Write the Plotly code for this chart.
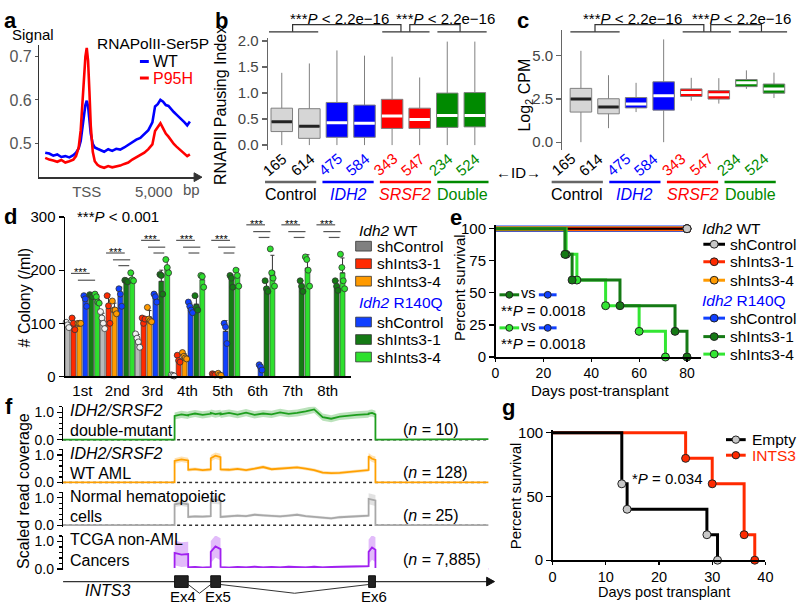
import plotly.graph_objects as go

W, H = 800, 610
FONT = "Liberation Sans, Arial, sans-serif"


def X(p):
    return p / W


def Y(p):
    return 1 - p / H


# ======================= DATA =======================
# ---- panel a : RNAPolII-Ser5P metagene profile ----
prof_bp = [-3100, -2800, -2500, -2200, -1900, -1600, -1300, -1000, -800, -600, -450, -300, -200, -100,
           0, 100, 200, 300, 450, 600, 800, 1000, 1300, 1600, 1900, 2200, 2500, 2800, 3100, 3400, 3700,
           4000, 4300, 4600, 4900, 5100, 5300, 5500, 5700, 5900, 6100, 6300, 6500, 6700, 6900, 7100,
           7300, 7500, 7700]
wt_signal = [0.478, 0.476, 0.471, 0.474, 0.468, 0.470, 0.467, 0.472, 0.478, 0.488, 0.505, 0.535, 0.565,
             0.588, 0.598, 0.585, 0.555, 0.522, 0.498, 0.490, 0.487, 0.484, 0.480, 0.486, 0.482, 0.487,
             0.485, 0.490, 0.496, 0.503, 0.508, 0.512, 0.522, 0.530, 0.548, 0.585, 0.590, 0.600, 0.596,
             0.588, 0.586, 0.578, 0.572, 0.566, 0.560, 0.556, 0.548, 0.541, 0.550]
p95h_signal = [0.466, 0.462, 0.460, 0.457, 0.461, 0.455, 0.458, 0.462, 0.470, 0.490, 0.530, 0.600, 0.660,
               0.700, 0.720, 0.690, 0.620, 0.540, 0.480, 0.458, 0.450, 0.446, 0.443, 0.447, 0.444, 0.446,
               0.448, 0.452, 0.455, 0.462, 0.467, 0.472, 0.478, 0.486, 0.497, 0.528, 0.538, 0.546, 0.534,
               0.522, 0.515, 0.505, 0.498, 0.492, 0.486, 0.482, 0.476, 0.470, 0.474]

# ---- panels b, c : boxplots per sample ID ----
sample_ids = ["165", "614", "475", "584", "343", "547", "234", "524"]
group_names = ["Control", "IDH2", "SRSF2", "Double"]
pause_low = [0, 0, 0, 0, 0, 0, 0, 0]
pause_q1 = [0.26, 0.13, 0.15, 0.15, 0.32, 0.32, 0.34, 0.35]
pause_med = [0.45, 0.36, 0.43, 0.42, 0.56, 0.49, 0.57, 0.57]
pause_q3 = [0.71, 0.70, 0.82, 0.77, 0.88, 0.71, 1.00, 1.01]
pause_high = [1.39, 1.57, 1.82, 1.72, 1.70, 1.30, 1.99, 1.99]

cpm_low = [0.0, 0.81, 1.74, 0.0, 2.40, 2.23, 3.08, 2.55]
cpm_q1 = [1.74, 1.64, 1.98, 1.85, 2.64, 2.49, 3.21, 2.83]
cpm_med = [2.49, 2.04, 2.21, 2.68, 2.87, 2.74, 3.43, 3.08]
cpm_q3 = [3.11, 2.51, 2.58, 3.49, 3.08, 2.98, 3.62, 3.36]
cpm_high = [5.28, 3.87, 3.43, 5.94, 3.72, 3.70, 4.15, 4.02]

# ---- panel d : colony replating ----
passages = ["1st", "2nd", "3rd", "4th", "5th", "6th", "7th", "8th"]
col_wt_ctrl = [97, 105, 68, 2, None, None, None, None]
col_wt_i31 = [99, 128, 106, 32, 4, None, None, None]
col_wt_i34 = [100, 128, 112, 38, 4, None, None, None]
col_mut_ctrl = [143, 151, 148, 129, 85, 17, None, None]
col_mut_i31 = [152, 180, 179, 136, 181, 168, 170, 171]
col_mut_i34 = [146, 186, 207, 182, 187, 198, 204, 195]
sd_wt_ctrl = [5, 14, 11, 1, 0, 0, 0, 0]
sd_wt_i31 = [11, 26, 5, 7, 1, 0, 0, 0]
sd_wt_i34 = [0, 10, 12, 5, 2, 0, 0, 0]
sd_mut_ctrl = [10, 17, 8, 9, 20, 5, 0, 0]
sd_mut_i31 = [2, 2, 21, 14, 11, 10, 10, 9]
sd_mut_i34 = [8, 8, 13, 12, 15, 30, 25, 28]
dots_wt_ctrl = [[102, 97, 92], [122, 110, 100, 90], [80, 72, 65, 55], [3, 2, 1], [], [], [], []]
dots_wt_i31 = [[110, 100, 88], [152, 133, 100], [110, 100, 108], [40, 30, 27], [5, 4, 3], [], [], []]
dots_wt_i34 = [[100, 100, 100], [142, 125, 125, 118], [130, 108, 105, 103], [45, 38, 35, 33], [6, 3, 2],
               [], [], []]
dots_mut_ctrl = [[152, 146, 132], [165, 155, 132], [155, 150, 140], [140, 132, 125, 120], [100, 93, 62],
                 [22, 18, 12], [], []]
dots_mut_i31 = [[154, 152, 150], [181, 180, 178], [192, 190, 155], [152, 130, 125], [190, 185, 168],
                [180, 165, 160], [180, 170, 160], [180, 170, 162]]
dots_mut_i34 = [[155, 150, 140, 138], [195, 182, 180], [220, 205, 195], [190, 188, 168], [200, 190, 170],
                [240, 195, 185, 170], [225, 220, 200, 170], [230, 205, 180, 165]]
shrna_names = ["shControl", "shInts3-1", "shInts3-4"]

# ---- panel e : survival ----
e_ctrl_days = [0, 80]
e_ctrl_surv = [100, 100]
e_i31_days = [0, 29, 32, 52, 75, 80]
e_i31_surv = [100, 80, 60, 40, 20, 0]
e_i34_days = [0, 29.5, 34, 46, 60, 71]
e_i34_surv = [100, 80, 60, 40, 20, 0]

# ---- panel f : INTS3 coverage ----
cov_pos = [0, 26.2, 26.2, 27.8, 29.4, 29.4, 31.0, 32.8, 34.7, 34.7, 35.8, 37.0, 37.0, 39, 41, 43, 45, 47,
           49, 51, 53, 55, 57, 59, 61, 63, 65, 67, 69, 71.8, 71.8, 72.6, 73.4, 73.4, 100]
cov_double = [0, 0, 0.86, 0.92, 0.88, 0.90, 0.95, 0.90, 0.94, 0.97, 0.93, 0.96, 0.92, 0.97, 0.91, 0.98,
              0.90, 0.95, 0.92, 0.99, 0.94, 0.97, 1.03, 1.10, 0.82, 0.76, 0.84, 0.88, 0.90, 0.93, 0.95,
              0.97, 0.92, 0, 0.02]
cov_wt_aml = [0, 0, 0.78, 0.84, 0.80, 0.46, 0.48, 0.45, 0.47, 0.88, 0.97, 0.92, 0.47, 0.46, 0.49, 0.45,
              0.50, 0.56, 0.48, 0.50, 0.52, 0.55, 0.50, 0.45, 0.36, 0.34, 0.35, 0.38, 0.42, 0.45, 0.95,
              0.86, 0.82, 0, 0]
cov_normal = [0, 0, 0.76, 0.80, 0.76, 0.30, 0.32, 0.31, 0.33, 0.94, 0.92, 0.90, 0.30, 0.32, 0.35, 0.33,
              0.38, 0.36, 0.33, 0.32, 0.35, 0.38, 0.33, 0.30, 0.26, 0.25, 0.29, 0.31, 0.33, 0.35, 0.96,
              0.92, 0.90, 0, 0]
cov_tcga = [0, 0, 0.58, 0.52, 0.54, 0.06, 0.07, 0.05, 0.07, 0.62, 0.82, 0.72, 0.07, 0.05, 0.07, 0.06,
            0.08, 0.06, 0.07, 0.06, 0.08, 0.07, 0.06, 0.08, 0.06, 0.07, 0.08, 0.07, 0.08, 0.10, 0.62, 0.78,
            0.70, 0, 0]
band_double = [0, 0, 0.13, 0.13, 0.13, 0.13, 0.13, 0.13, 0.13, 0.13, 0.13, 0.13, 0.13, 0.13, 0.13, 0.13,
               0.13, 0.13, 0.13, 0.13, 0.13, 0.13, 0.13, 0.13, 0.13, 0.13, 0.13, 0.13, 0.13, 0.13, 0.13,
               0.13, 0.13, 0, 0]
band_wt_aml = [0, 0, 0.10, 0.10, 0.10, 0.06, 0.06, 0.06, 0.06, 0.12, 0.12, 0.12, 0.06, 0.06, 0.06, 0.06,
               0.06, 0.06, 0.06, 0.06, 0.06, 0.06, 0.06, 0.06, 0.06, 0.06, 0.06, 0.06, 0.06, 0.06, 0.12,
               0.12, 0.12, 0, 0]
band_normal = [0, 0, 0.10, 0.10, 0.10, 0.05, 0.05, 0.05, 0.05, 0.15, 0.15, 0.15, 0.05, 0.05, 0.05, 0.05,
               0.05, 0.05, 0.05, 0.05, 0.05, 0.05, 0.05, 0.05, 0.05, 0.05, 0.05, 0.05, 0.05, 0.05, 0.20,
               0.20, 0.20, 0, 0]
band_tcga = [0, 0, 0.45, 0.45, 0.45, 0.04, 0.04, 0.04, 0.04, 0.40, 0.40, 0.40, 0.04, 0.04, 0.04, 0.04,
             0.04, 0.04, 0.04, 0.04, 0.04, 0.04, 0.04, 0.04, 0.04, 0.04, 0.04, 0.04, 0.04, 0.05, 0.45,
             0.45, 0.45, 0, 0]
cov_titles = [["<i>IDH2/SRSF2</i>", "double-mutant"], ["<i>IDH2/SRSF2</i>", "WT AML"],
              ["Normal hematopoietic", "cells"], ["TCGA non-AML", "Cancers"]]
cov_n = ["10", "128", "25", "7,885"]
exon_start = [26.2, 34.7, 71.8]
exon_end = [29.4, 37.0, 73.4]
exon_names = ["Ex4", "Ex5", "Ex6"]

# ---- panel g : survival ----
g_empty_days = [0, 13, 14, 29, 31]
g_empty_surv = [100, 60, 40, 20, 0]
g_ints3_days = [0, 25, 30, 36, 38]
g_ints3_surv = [100, 80, 60, 20, 0]

# ======================= STYLE =======================
BLUE, RED, GREEN = "#0000ff", "#ff0000", "#008a00"
box_fill = ["#d6d6d6", "#d6d6d6", BLUE, BLUE, RED, RED, GREEN, GREEN]
med_col = ["#222222", "#222222", "white", "white", "white", "white", "white", "white"]
id_col = ["black", "black", BLUE, BLUE, RED, RED, GREEN, GREEN]
grp_col = ["#666666", BLUE, RED, GREEN]
grp_lbl = ["Control", "<i>IDH2</i>", "<i>SRSF2</i>", "Double"]
d_fill = ["#b8b8b8", "#ff2a00", "#ff9a00", "#1040ff", "#157a15", "#2ee02e"]
d_dot = ["#f0f0f0", "#ff2a00", "#ff9a00", "#1040ff", "#157a15", "#2ee02e"]
d_leg = ["#808080", "#ff2a00", "#ff9a00", "#1040ff", "#157a15", "#2ee02e"]

traces, shapes, anns = [], [], []


def ax(n):
    return ("x" if n == 1 else "x%d" % n), ("y" if n == 1 else "y%d" % n)


def add(tr, n):
    xa, ya = ax(n)
    tr.update(xaxis=xa, yaxis=ya, hoverinfo="skip")
    traces.append(tr)


def ann(x, y, text, size=15, color="black", xanchor="center", angle=0, bold=False):
    if bold:
        text = "<b>%s</b>" % text
    anns.append(dict(x=X(x), y=Y(y), xref="paper", yref="paper", text=text, showarrow=False,
                     font=dict(size=size, color=color, family=FONT), xanchor=xanchor, yanchor="middle",
                     textangle=angle))


def line(x0, y0, x1, y1, color="black", width=1.2, dash=None):
    d = dict(color=color, width=width)
    if dash:
        d["dash"] = dash
    shapes.append(dict(type="line", xref="paper", yref="paper", x0=X(x0), y0=Y(y0), x1=X(x1), y1=Y(y1),
                       line=d))


def path(pts, color="black", width=1.2, fill=None, close=False):
    s = "M " + " L ".join("%f,%f" % (X(a), Y(b)) for a, b in pts)
    if close:
        s += " Z"
    shapes.append(dict(type="path", xref="paper", yref="paper", path=s,
                       line=dict(color=color, width=width), fillcolor=fill or "rgba(0,0,0,0)"))


def circle(cx, cy, r, fill, edge="#222"):
    shapes.append(dict(type="circle", xref="paper", yref="paper", x0=X(cx - r), x1=X(cx + r),
                       y0=Y(cy + r), y1=Y(cy - r), fillcolor=fill, line=dict(color=edge, width=1)))


def rect(x0, y0, x1, y1, fill, edge="#333"):
    shapes.append(dict(type="rect", xref="paper", yref="paper", x0=X(x0), x1=X(x1), y0=Y(y1), y1=Y(y0),
                       fillcolor=fill, line=dict(color=edge, width=0.8)))


def base_axis(**kw):
    d = dict(showgrid=False, zeroline=False, showline=True, linecolor="black", linewidth=1.3,
             ticks="outside", ticklen=4, tickwidth=1.2, tickcolor="black",
             tickfont=dict(size=15, color="black", family=FONT), fixedrange=True)
    d.update(kw)
    return d


layout_axes = {}

# ======================= PANEL a =======================
ka = 68 / 5000.0
layout_axes["xaxis"] = base_axis(domain=[X(36), X(197)], range=[(36 - 84) / ka, (197 - 84) / ka],
                                 anchor="y", ticks="", tickvals=[0, 5000], ticktext=["TSS", "5,000"],
                                 linecolor="#333", linewidth=1.5,
                                 tickfont=dict(size=15, color="#555", family=FONT))
layout_axes["yaxis"] = base_axis(domain=[Y(173), Y(37)], range=[0.4213, 0.727], anchor="x",
                                 tickvals=[0.5, 0.6, 0.7], ticktext=["0.5", "0.6", "0.7"], ticklen=3,
                                 linecolor="#333", linewidth=1.5, tickcolor="#555",
                                 tickfont=dict(size=16, color="#555", family=FONT))
add(go.Scatter(x=prof_bp, y=wt_signal, mode="lines", line=dict(color=BLUE, width=2.6)), 1)
add(go.Scatter(x=prof_bp, y=p95h_signal, mode="lines", line=dict(color=RED, width=2.6)), 1)
path([(193, 168.5), (201, 173), (193, 177.5)], color="#333", width=1, fill="#333", close=True)
ann(190, 186, "bp", 15, "#555")
ann(29, 26, "Signal", 15)
ann(151, 35, "RNAPolII-Ser5P", 15.5)
line(138, 54, 147, 54, BLUE, 3)
ann(149, 54, "WT", 16, xanchor="left")
line(138, 71, 147, 71, RED, 3)
ann(149, 71, "P95H", 16, RED, xanchor="left")

# ======================= PANELS b, c =======================
def box_panel(n, xdom, xr, ydom, yr, ticks, tlabels, low, q1, med, q3, high):
    layout_axes["xaxis%d" % n] = dict(domain=xdom, range=xr, anchor="y%d" % n, visible=False,
                                      fixedrange=True)
    layout_axes["yaxis%d" % n] = base_axis(domain=ydom, range=yr, anchor="x%d" % n, tickvals=ticks,
                                           ticktext=tlabels, linecolor="#666", tickcolor="#666",
                                           ticklen=5, tickfont=dict(size=15, color="#444", family=FONT))
    for i in range(len(sample_ids)):
        add(go.Box(x=[i + 1], q1=[q1[i]], median=[med[i]], q3=[q3[i]], lowerfence=[low[i]],
                   upperfence=[high[i]], width=0.78, whiskerwidth=0, fillcolor=box_fill[i],
                   line=dict(color="#808080", width=1), boxpoints=False), n)
        add(go.Scatter(x=[i + 1 - 0.37, i + 1 + 0.37], y=[med[i], med[i]], mode="lines",
                       line=dict(color=med_col[i], width=3)), n)


kb = 53.5
box_panel(2, [X(268), X(492)], [0.5, 8.5], [Y(145), Y(30)], [-5 / kb, 110 / kb],
          [0, 0.5, 1.0, 1.5, 2.0], ["0.0", "0.5", "1.0", "1.5", "2.0"],
          pause_low, pause_q1, pause_med, pause_q3, pause_high)
kc = 17.8
box_panel(3, [X(567), X(796)], [1 + (567 - 585.7) / 28, 1 + (796 - 585.7) / 28], [Y(145), Y(22)],
          [-(145 - 137) / kc, (137 - 22) / kc], [0, 2.5, 5.0], ["0.0", "2.5", "5.0"],
          cpm_low, cpm_q1, cpm_med, cpm_q3, cpm_high)

ptxt = "***<i>P</i> < 2.2e\u221216"
for cx in (341, 448, 638, 749):
    ann(cx, 10, ptxt, 15)
for (a0, a1) in ((269, 319), (384, 432), (440, 490), (575, 625), (689, 738), (746, 795)):
    line(a0, 23.5, a1, 23.5, "#333", 1.2)
for (a0, a1) in ((293, 403), (412, 463), (600, 710.5), (717.5, 769)):
    path([(a0, 23.5), (a0, 16), (a1, 16), (a1, 23.5)], "#333", 1.2)

for i, sid in enumerate(sample_ids):
    ann(282 + 28 * i - 7, 160, sid, 15, id_col[i], angle=-40)
    ann(585.7 + 28 * i - 18, 160, sid, 15, id_col[i], angle=-40)
for k in range(4):
    for cx in (291 + 58.3 * k, 582 + 58.5 * k):
        line(cx - 26, 178, cx + 26, 178, grp_col[k], 2.5)
        ann(cx, 191, grp_lbl[k], 16, "black" if k == 0 else grp_col[k])
ann(522, 168, "\u2190ID\u2192", 15)
ann(220, 99, "RNAPII Pausing Index", 16, angle=-90)
ann(529, 89, "Log<sub>2</sub> CPM", 16, angle=-90)

# ======================= PANEL d =======================
gstep, bstep = 35.6, 6.0
layout_axes["xaxis4"] = base_axis(domain=[X(62), X(352)],
                                  range=[(62 - 79.5) / gstep, (352 - 79.5) / gstep], anchor="y4",
                                  tickvals=list(range(len(passages))), ticktext=passages, ticks="",
                                  linewidth=1.5)
layout_axes["yaxis4"] = base_axis(domain=[Y(378), Y(214)], range=[0, 300], anchor="x4",
                                  tickvals=[0, 100, 200, 300], linewidth=1.5, ticklen=5)
d_means = [col_wt_ctrl, col_wt_i31, col_wt_i34, col_mut_ctrl, col_mut_i31, col_mut_i34]
d_sds = [sd_wt_ctrl, sd_wt_i31, sd_wt_i34, sd_mut_ctrl, sd_mut_i31, sd_mut_i34]
d_dots = [dots_wt_ctrl, dots_wt_i31, dots_wt_i34, dots_mut_ctrl, dots_mut_i31, dots_mut_i34]
off = bstep / gstep
for s in range(6):
    xs = [g + (s - 2.5) * off for g in range(len(passages))]
    add(go.Bar(x=xs, y=d_means[s], width=5.0 / gstep,
               marker=dict(color=d_fill[s], line=dict(color="#333", width=0.6)),
               error_y=dict(type="data", symmetric=False, array=d_sds[s], arrayminus=[0] * 8,
                            color="#333", thickness=1, width=2)), 4)
for s in range(6):
    px_, py_ = [], []
    for g in range(len(passages)):
        vals = d_dots[s][g]
        m = len(vals)
        for k, v in enumerate(vals):
            jit = (k - (m - 1) / 2.0) * 0.04
            px_.append(g + (s - 2.5) * off + jit)
            py_.append(v)
    add(go.Scatter(x=px_, y=py_, mode="markers", cliponaxis=False,
                   marker=dict(size=6, color=d_dot[s], line=dict(color="#333", width=0.8))), 4)

sig_y = [268, 247, 234, 234, 234, 218, 218, 218]
for g in range(len(passages)):
    cx = 79.5 + gstep * g
    yy = sig_y[g]
    ann(cx - 1, yy + 3, "***", 11)
    line(cx - 11.5, yy + 4, cx + 7.5, yy + 4, "#555", 1.2)
    line(cx - 4.5, yy + 11, cx + 13, yy + 11, "#555", 1.2)
    if g > 0:
        line(cx + 1, yy + 17, cx + 12, yy + 17, "#555", 1.2)
ann(72, 213, "***<i>P</i> < 0.001", 15, xanchor="left")
ann(21, 297, "# Colony (/ml)", 16, angle=-90)
ann(358, 228, "<i>Idh2</i> WT", 15.5, xanchor="left")
ann(358, 302, "<i>Idh2</i> R140Q", 15.5, BLUE, xanchor="left")
for k, yy in enumerate([244, 262, 280, 322, 340, 358]):
    rect(357, yy - 5, 373, yy + 5, d_leg[k])
    ann(377, yy, shrna_names[k % 3], 15.5, xanchor="left")

# ======================= PANEL e =======================
ke = 2.43
layout_axes["xaxis5"] = base_axis(domain=[X(499), X(708)], range=[0, (708 - 499) / ke], anchor="y5",
                                  tickvals=[0, 20, 40, 60, 80], linewidth=1.5, ticklen=3,
                                  tickfont=dict(size=14, color="black", family=FONT))
layout_axes["yaxis5"] = base_axis(domain=[Y(358), Y(222)], range=[0, (358 - 222) / 1.32], anchor="x5",
                                  tickvals=[0, 25, 50, 75, 100], linewidth=1.5, ticklen=5)
e_lines = [(e_ctrl_days, e_ctrl_surv, "#1040ff", 6.5), (e_ctrl_days, e_ctrl_surv, "#ff9a00", 5),
           (e_ctrl_days, e_ctrl_surv, "#ff2a00", 3.6), (e_ctrl_days, e_ctrl_surv, "black", 2),
           (e_i34_days, e_i34_surv, "#33e633", 3), (e_i31_days, e_i31_surv, "#157a15", 3)]
for dd, ss, c, w in e_lines:
    add(go.Scatter(x=dd, y=ss, mode="lines", line=dict(color=c, width=w, shape="hv")), 5)
e_marks = [(e_ctrl_days, e_ctrl_surv, "#1040ff"), (e_ctrl_days, e_ctrl_surv, "#ff9a00"),
           (e_ctrl_days, e_ctrl_surv, "#ff2a00"), (e_ctrl_days, e_ctrl_surv, "#c8c8c8"),
           (e_i34_days, e_i34_surv, "#33e633"), (e_i31_days, e_i31_surv, "#157a15")]
for dd, ss, c in e_marks:
    add(go.Scatter(x=dd[1:], y=ss[1:], mode="markers", cliponaxis=False,
                   marker=dict(size=8, color=c, line=dict(color="#222", width=1))), 5)
ann(462, 287, "Percent survival", 15, angle=-90)
ann(605, 392, "Days post-transplant", 15)
for yy, col in ((294, "#157a15"), (328, "#33e633")):
    line(503, yy, 523, yy, col, 3)
    circle(513, yy, 3.5, col)
    ann(532, yy - 1.5, "vs", 14.5)
    line(543, yy, 561, yy, "#1040ff", 3)
    circle(552, yy, 3.5, "#1040ff")
    ann(503, yy + 16, "**<i>P</i> = 0.0018", 15, xanchor="left")
ann(707, 226, "<i>Idh2</i> WT", 15.5, xanchor="left")
ann(707, 300, "<i>Idh2</i> R140Q", 15.5, BLUE, xanchor="left")
e_leg_col = ["black", "#ff2a00", "#ff9a00", "#1040ff", "#157a15", "#33e633"]
e_leg_dot = ["#c8c8c8", "#ff2a00", "#ff9a00", "#1040ff", "#157a15", "#33e633"]
for k, yy in enumerate([242, 260, 279, 318, 337, 355]):
    line(710, yy, 732, yy, e_leg_col[k], 3)
    circle(721, yy, 4, e_leg_dot[k])
    ann(735, yy, shrna_names[k % 3], 15.5, xanchor="left")

# ======================= PANEL g =======================
layout_axes["xaxis6"] = base_axis(domain=[X(557), X(773)], range=[0, 40], anchor="y6",
                                  tickvals=[0, 10, 20, 30, 40], linewidth=1.5, ticklen=3,
                                  tickfont=dict(size=14.5, color="black", family=FONT))
layout_axes["yaxis6"] = base_axis(domain=[Y(567), Y(433.4)], range=[0, 102], anchor="x6",
                                  tickvals=[0, 50, 100], linewidth=1.5, ticklen=5)
add(go.Scatter(x=g_ints3_days, y=g_ints3_surv, mode="lines", line=dict(color="#ff2a00", width=3,
                                                                        shape="hv")), 6)
add(go.Scatter(x=g_empty_days, y=g_empty_surv, mode="lines", line=dict(color="black", width=3,
                                                                        shape="hv")), 6)
add(go.Scatter(x=g_ints3_days[1:], y=g_ints3_surv[1:], mode="markers", cliponaxis=False,
               marker=dict(size=8, color="#ff2a00", line=dict(color="#222", width=1))), 6)
add(go.Scatter(x=g_empty_days[1:], y=g_empty_surv[1:], mode="markers", cliponaxis=False,
               marker=dict(size=8, color="#c8c8c8", line=dict(color="#222", width=1))), 6)
ann(519, 501, "Percent survival", 15, angle=-90)
ann(670, 600, "Days post transplant", 14.5)
ann(674, 483, "*<i>P</i> = 0.034", 15)
for yy, lc, dc, txt, tc in ((443, "black", "#c8c8c8", "Empty", "black"),
                            (459, "#ff2a00", "#ff2a00", "INTS3", "#ff2a00")):
    line(733, yy, 753, yy, lc, 3)
    circle(743, yy, 3.8, dc)
    ann(757, yy, txt, 15.5, tc, xanchor="left")

# ======================= PANEL f =======================
f_y0 = [443, 487, 531, 576]
kf = 28.3
f_line = ["#1e9e1e", "#ffa000", "#a8a8a8", "#a020f0"]
f_band = ["rgba(30,158,30,0.30)", "rgba(255,160,0,0.30)", "rgba(160,160,160,0.30)",
          "rgba(160,32,240,0.30)"]
f_vals = [cov_double, cov_wt_aml, cov_normal, cov_tcga]
f_hw = [band_double, band_wt_aml, band_normal, band_tcga]
for k in range(4):
    n = 7 + k
    y0 = f_y0[k]
    layout_axes["xaxis%d" % n] = dict(domain=[X(60), X(492)], range=[0, 100], anchor="y%d" % n,
                                      visible=False, fixedrange=True)
    layout_axes["yaxis%d" % n] = base_axis(domain=[Y(y0 + 0.05 * kf), Y(y0 - 1.2 * kf)],
                                           range=[-0.05, 1.2], anchor="x%d" % n, tickvals=[0, 1],
                                           ticktext=["0.0", "1.0"], ticklen=5,
                                           tickfont=dict(size=14, color="black", family=FONT),
                                           minor=dict(dtick=0.2, ticks="outside", ticklen=3,
                                                      tickcolor="black"))
    vals, hw = f_vals[k], f_hw[k]
    lower = [max(0.0, v - h) for v, h in zip(vals, hw)]
    upper = [v + h for v, h in zip(vals, hw)]
    add(go.Scatter(x=cov_pos, y=lower, mode="lines", line=dict(width=0, color=f_band[k])), n)
    add(go.Scatter(x=cov_pos, y=upper, mode="lines", fill="tonexty", fillcolor=f_band[k],
                   line=dict(width=0, color=f_band[k])), n)
    add(go.Scatter(x=[0, 100], y=[0, 0], mode="lines", line=dict(color="#333", width=1.5, dash="dot")), n)
    add(go.Scatter(x=cov_pos, y=vals, mode="lines", line=dict(color=f_line[k], width=1.8)), n)
    ann(65, y0 - 30, cov_titles[k][0], 16, xanchor="left")
    ann(65, y0 - 9, cov_titles[k][1], 16, xanchor="left")
    ann(403, y0 - 10, "(<i>n</i> = %s)" % cov_n[k], 16, xanchor="left")

# gene model
layout_axes["xaxis11"] = dict(domain=[X(60), X(492)], range=[0, 100], anchor="y11", visible=False,
                              fixedrange=True)
layout_axes["yaxis11"] = dict(domain=[Y(603), Y(575)], range=[-1.4, 1.4], anchor="x11", visible=False,
                              fixedrange=True)
line(60, 589, 492, 589, "#333", 1.2)
path([(490, 584.5), (498, 589), (490, 593.5)], "#111", 1, "#111", close=True)
for s0, s1 in zip(exon_start, exon_end):
    shapes.append(dict(type="rect", xref="x11", yref="y11", x0=s0, x1=s1, y0=-0.6, y1=0.6,
                       fillcolor="#222", line=dict(color="#111", width=1)))
for i in range(len(exon_start) - 1):
    a, b = exon_end[i], exon_start[i + 1]
    add(go.Scatter(x=[a, (a + b) / 2, b], y=[-0.3, -1.2, -0.3], mode="lines",
                   line=dict(color="#333", width=1)), 11)
for s0, s1, nm in zip(exon_start, exon_end, exon_names):
    cx = 60 + (s0 + s1) / 2 * 4.32
    ann(cx + 2, 604, nm, 15)
ann(105, 598, "<i>INTS3</i>", 16)
ann(19, 496, "Scaled read coverage", 16, angle=-90)

# panel letters
for (lx, ly, lt) in ((7, 12, "a"), (221, 12, "b"), (527, 12, "c"), (7, 213, "d"), (459, 214, "e"),
                     (5, 409, "f"), (512, 410, "g")):
    ann(lx, ly, lt, 22, bold=True)

fig = go.Figure(data=traces)
fig.update_layout(width=W, height=H, margin=dict(l=0, r=0, t=0, b=0), showlegend=False,
                  plot_bgcolor="white", paper_bgcolor="white", barmode="overlay",
                  font=dict(family=FONT, size=15, color="black"), shapes=shapes, annotations=anns,
                  **layout_axes)
fig.write_html("out.html", config={"staticPlot": True},
               post_script="document.body.style.margin='0';")
